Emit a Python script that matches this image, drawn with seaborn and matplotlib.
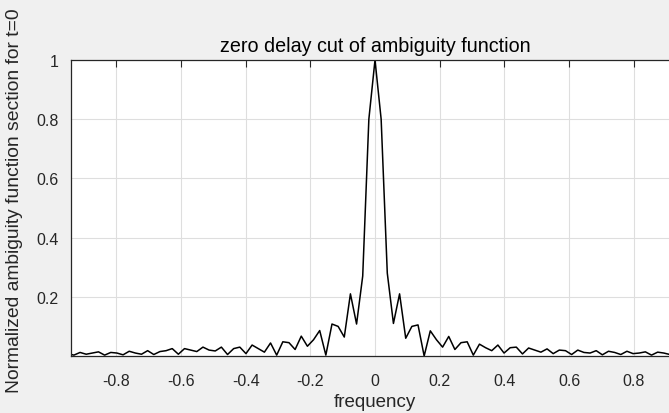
import numpy as np
import matplotlib
matplotlib.use("Agg")
import matplotlib.pyplot as plt
import seaborn as sns

# ---- data ----
freq = np.linspace(-0.95, 0.95, 101)

left_side = [0.008, 0.003, 0.012, 0.006, 0.010, 0.014, 0.003, 0.012, 0.010, 0.004,
             0.016, 0.010, 0.006, 0.018, 0.005, 0.015, 0.018, 0.025, 0.006, 0.025,
             0.020, 0.015, 0.030, 0.020, 0.017, 0.030, 0.005, 0.025, 0.030, 0.008,
             0.037, 0.025, 0.013, 0.044, 0.003, 0.048, 0.045, 0.022, 0.067, 0.033,
             0.055, 0.086, 0.003, 0.108, 0.100, 0.064, 0.210, 0.108, 0.270, 0.800]
center = [1.0]
right_side = [0.800, 0.280, 0.110, 0.210, 0.060, 0.100, 0.105, 0.000, 0.085, 0.055,
              0.030, 0.066, 0.022, 0.045, 0.048, 0.003, 0.040, 0.028, 0.018, 0.037,
              0.010, 0.028, 0.030, 0.007, 0.027, 0.020, 0.013, 0.024, 0.008, 0.020,
              0.018, 0.005, 0.020, 0.012, 0.010, 0.018, 0.004, 0.016, 0.012, 0.005,
              0.016, 0.008, 0.010, 0.014, 0.003, 0.013, 0.010, 0.005, 0.012, 0.006]
values = np.array(left_side + center + right_side)

x_ticks = [-0.8, -0.6, -0.4, -0.2, 0, 0.2, 0.4, 0.6, 0.8]
x_ticklabels = ["-0.8", "-0.6", "-0.4", "-0.2", "0", "0.2", "0.4", "0.6", "0.8"]
y_ticks = [0.2, 0.4, 0.6, 0.8, 1.0]
y_ticklabels = ["0.2", "0.4", "0.6", "0.8", "1"]

title = "zero delay cut of ambiguity function"
xlabel = "frequency"
ylabel = "Normalized ambiguity function section for t=0"

# ---- style ----
sns.set_style("white")
plt.rcParams["font.family"] = ["Liberation Sans", "DejaVu Sans"]
plt.rcParams["axes.unicode_minus"] = False

dark = "#262626"
fig = plt.figure(figsize=(6.69, 4.14), dpi=100, facecolor="#f0f0f0")
ax = fig.add_axes([71 / 669, 1 - 357 / 414, 608 / 669, (357 - 61) / 414])
ax.set_facecolor("white")

sns.lineplot(x=freq, y=values, ax=ax, color="black", linewidth=1.1)

ax.set_xlim(-0.94, 0.94)
ax.set_ylim(0, 1)
ax.set_xticks(x_ticks)
ax.set_xticklabels(x_ticklabels)
ax.set_yticks(y_ticks)
ax.set_yticklabels(y_ticklabels)

ax.grid(True, color="#dedede", linewidth=0.8)
ax.set_axisbelow(True)
ax.tick_params(direction="in", length=5, width=0.8, colors=dark,
               labelsize=11.5, top=True, right=True)
ax.tick_params(axis="x", pad=12)
ax.tick_params(axis="y", pad=9)
for s in ax.spines.values():
    s.set_color(dark)
    s.set_linewidth(0.9)

ax.set_title(title, fontsize=14.2, color="black", pad=6.5)
ax.set_xlabel(xlabel, fontsize=13.5, color=dark)
ax.xaxis.set_label_coords(0.5, (357 - 394) / 296)
ax.set_ylabel(ylabel, fontsize=13.9, color=dark)
ax.yaxis.set_label_coords((23 - 71) / 608, (357 - 201) / 296)

fig.savefig("out.png", dpi=100, facecolor=fig.get_facecolor())
